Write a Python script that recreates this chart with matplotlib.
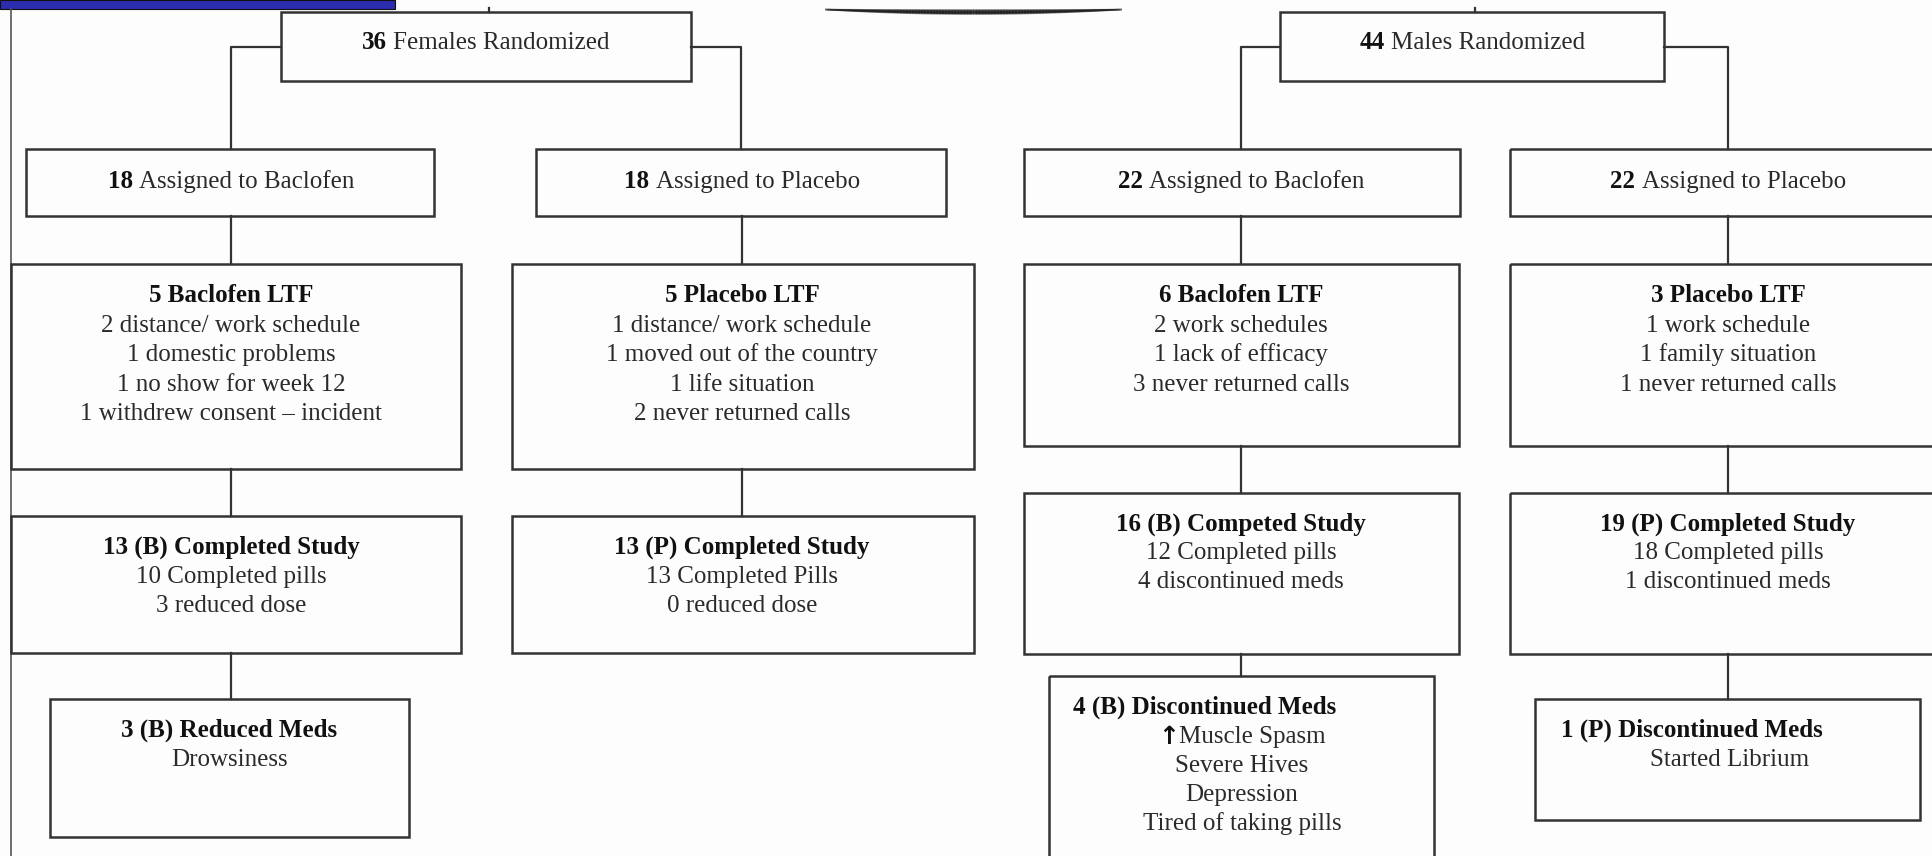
#!/usr/bin/env python3
import numpy as np
import matplotlib
matplotlib.use("Agg")
import matplotlib.pyplot as plt
from matplotlib.patches import Rectangle
from matplotlib.collections import LineCollection

# ---- chart content ----
group_counts = ["36", "44"]
group_labels = ["Females Randomized", "Males Randomized"]

assign_counts = ["18", "18", "22", "22"]
assign_labels = ["Assigned to Baclofen", "Assigned to Placebo",
                 "Assigned to Baclofen", "Assigned to Placebo"]

ltf_titles = ["5 Baclofen LTF", "5 Placebo LTF", "6 Baclofen LTF", "3 Placebo LTF"]
ltf_reasons = [
    ["2 distance/ work schedule", "1 domestic problems", "1 no show for week 12",
     "1 withdrew consent \u2013 incident"],
    ["1 distance/ work schedule", "1 moved out of the country", "1 life situation",
     "2 never returned calls"],
    ["2 work schedules", "1 lack of efficacy", "3 never returned calls"],
    ["1 work schedule", "1 family situation", "1 never returned calls"],
]

done_titles = ["13 (B) Completed Study", "13 (P) Completed Study",
               "16 (B) Competed Study", "19 (P) Completed Study"]
done_lines = [
    ["10 Completed pills", "3 reduced dose"],
    ["13 Completed Pills", "0 reduced dose"],
    ["12 Completed pills", "4 discontinued meds"],
    ["18 Completed pills", "1 discontinued meds"],
]

meds_titles = ["3 (B) Reduced Meds", "4 (B) Discontinued Meds", "1 (P) Discontinued Meds"]
meds_lines = [
    ["Drowsiness"],
    ["\u2191", "Muscle Spasm", "Severe Hives", "Depression", "Tired of taking pills"],
    ["Started Librium"],
]

# ---- layout (pixels, y downwards) ----
W, H = 1932, 856
FS = 18
SERIF = ["Liberation Serif", "DejaVu Serif"]
LINE = "#333333"
TXT = "#2a2a2a"

top_boxes = [(281, 12, 691, 81), (1280, 12, 1664, 81)]
top_branch = [(231, 741), (1241, 1728)]
cols = [231, 742, 1241, 1728]
assign_boxes = [(26, 149, 434, 216), (536, 149, 946, 216),
                (1024, 149, 1460, 216), (1510, 149, 1945, 216)]
ltf_boxes = [(11, 264, 461, 469), (512, 264, 974, 469),
             (1024, 264, 1459, 446), (1510, 264, 1945, 446)]
done_boxes = [(11, 516, 461, 653), (512, 516, 974, 653),
              (1024, 493, 1459, 654), (1510, 493, 1945, 654)]
meds_boxes = [(50, 699, 409, 837), (1049, 676, 1434, 880), (1535, 699, 1920, 820)]
meds_cols = [0, 2, 3]


def box(ax, b):
    x0, y0, x1, y1 = b
    ax.add_patch(Rectangle((x0, y0), x1 - x0, y1 - y0, fill=False,
                           edgecolor=LINE, lw=1.8, zorder=2))


def vline(ax, x, y0, y1):
    ax.plot([x, x], [y0, y1], color=LINE, lw=1.6, zorder=1)


def txt(ax, x, y, s, bold=False, ha="center", family=SERIF):
    return ax.text(x, y, s, fontsize=FS, family=family, ha=ha, va="center_baseline",
                   fontweight="bold" if bold else "normal",
                   color="#111111" if bold else TXT, zorder=3)


def width(ax, r, s, bold=False, family=SERIF):
    t = txt(ax, 0, 0, s, bold, family=family)
    w = t.get_window_extent(r).width
    t.remove()
    return w


def numbered(ax, r, xc, y, num, rest):
    # bold count followed by plain label, centred as one line
    w1 = width(ax, r, num, True)
    sp = width(ax, r, "x x") - width(ax, r, "xx")
    w2 = width(ax, r, rest)
    x0 = xc - (w1 + sp + w2) / 2
    txt(ax, x0, y, num, True, ha="left")
    txt(ax, x0 + w1 + sp, y, rest, ha="left")


def main():
    fig = plt.figure(figsize=(W / 100, H / 100), dpi=100)
    fig.patch.set_facecolor("#fdfdfd")
    ax = fig.add_axes([0, 0, 1, 1])
    ax.set_xlim(0, W)
    ax.set_ylim(H, 0)
    ax.axis("off")
    r = fig.canvas.get_renderer()

    # header strip, page edge and the shadow arc at the top
    ax.add_patch(Rectangle((0, 0), 395, 9, facecolor="#2d2db0", edgecolor="#111111", lw=0.8))
    ax.plot([11, 11], [9, H], color="#555555", lw=1.2)
    xs = np.linspace(825, 1122, 200)
    u = (xs - 973.5) / 148.5
    xm = (xs[:-1] + xs[1:]) / 2
    um = (xm - 973.5) / 148.5
    for k, a in zip(np.linspace(0, 1, 7), [0.3, 0.5, 0.7, 0.9, 1.0, 0.9, 0.6]):
        ys = 9.5 + k * 4.5 * (1 - u ** 2)
        segs = np.stack([np.column_stack([xs[:-1], ys[:-1]]),
                         np.column_stack([xs[1:], ys[1:]])], axis=1)
        cols_rgba = np.zeros((len(xm), 4))
        cols_rgba[:, :3] = 0.12
        cols_rgba[:, 3] = a * np.clip(1 - um ** 2, 0, 1) ** 0.35
        ax.add_collection(LineCollection(segs, colors=cols_rgba, linewidths=1.2))

    # randomisation boxes
    for i, b in enumerate(top_boxes):
        box(ax, b)
        xl, xr = top_branch[i]
        ym = 47
        ax.plot([b[0], xl, xl], [ym, ym, 149], color=LINE, lw=1.6, zorder=1)
        ax.plot([b[2], xr, xr], [ym, ym, 149], color=LINE, lw=1.6, zorder=1)
        xc = (b[0] + b[2]) / 2
        vline(ax, xc + 3, 8, 12)
        numbered(ax, r, xc, 40, group_counts[i], group_labels[i])

    for i in range(4):
        x = cols[i]
        b = assign_boxes[i]
        box(ax, b)
        numbered(ax, r, x, 150 + 29, assign_counts[i], assign_labels[i])
        vline(ax, x, b[3], ltf_boxes[i][1])

        b = ltf_boxes[i]
        box(ax, b)
        txt(ax, x, 293, ltf_titles[i], True)
        for j, s in enumerate(ltf_reasons[i]):
            txt(ax, x, 323 + j * 29.5, s)
        vline(ax, x, b[3], done_boxes[i][1])

        b = done_boxes[i]
        box(ax, b)
        y0 = b[1] + 29
        txt(ax, x, y0, done_titles[i], True)
        for j, s in enumerate(done_lines[i]):
            txt(ax, x, y0 + 29 * (j + 1), s)

    for k, b in enumerate(meds_boxes):
        ci = meds_cols[k]
        x = cols[ci]
        box(ax, b)
        vline(ax, x, done_boxes[ci][3], b[1])
        ty = b[1] + 29
        if k == 0:
            txt(ax, (b[0] + b[2]) / 2, ty, meds_titles[k], True)
            txt(ax, (b[0] + b[2]) / 2, ty + 29, meds_lines[k][0])
        elif k == 1:
            txt(ax, b[0] + 24, ty, meds_titles[k], True, ha="left")
            arrow, first = meds_lines[k][0], meds_lines[k][1]
            wa = width(ax, r, arrow, True, family=["DejaVu Sans"])
            wf = width(ax, r, first)
            xa = x + 1 - (wa + wf) / 2
            txt(ax, xa, ty + 30, arrow, True, ha="left", family=["DejaVu Sans"])
            txt(ax, xa + wa, ty + 30, first, ha="left")
            for j, s in enumerate(meds_lines[k][2:]):
                txt(ax, x + 1, ty + 58 + j * 29, s)
        else:
            txt(ax, b[0] + 26, ty, meds_titles[k], True, ha="left")
            txt(ax, x + 2, ty + 29, meds_lines[k][0])

    fig.savefig("out.png", dpi=100, facecolor=fig.get_facecolor())


if __name__ == "__main__":
    main()
